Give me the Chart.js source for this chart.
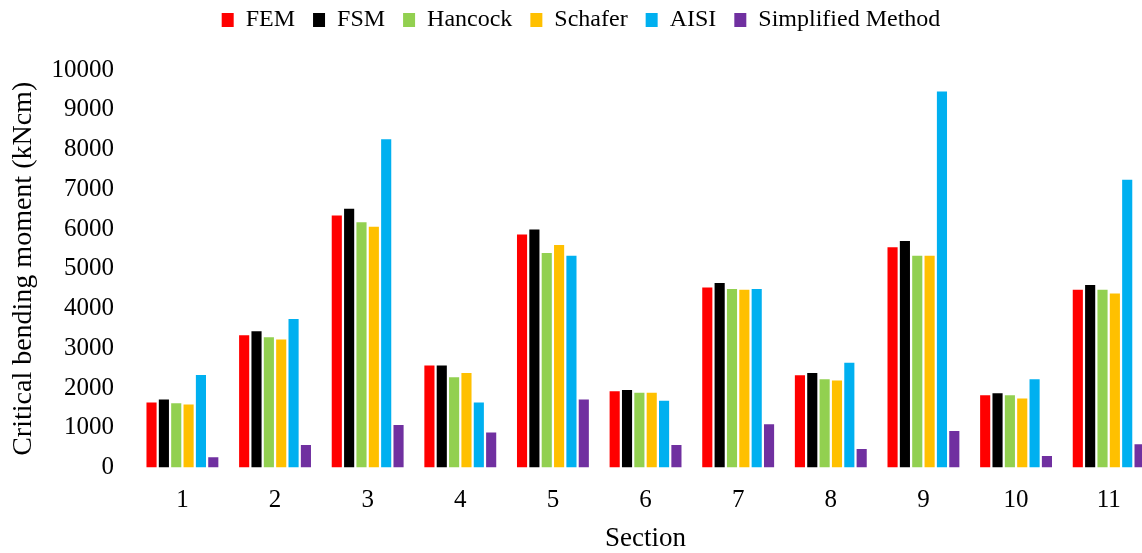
<!DOCTYPE html>
<html>
<head>
<meta charset="utf-8">
<script src="https://cdn.jsdelivr.net/npm/chart.js@4.4.1/dist/chart.umd.min.js"></script>
<style>
  html, body { margin: 0; padding: 0; background: #fff; overflow: hidden; }
  #wrap { position: absolute; left: 0; top: 0; width: 1160px; height: 553px; }
</style>
</head>
<body>
<div id="wrap"><canvas id="chart"></canvas></div>
<script>
// sections on the x axis
const sections = ['1', '2', '3', '4', '5', '6', '7', '8', '9', '10', '11'];

// critical bending moment (kNcm)
const fem        = [1640, 3330, 6340, 2570, 5860, 1920, 4530, 2320, 5540, 1820, 4470];
const fsm        = [1710, 3430, 6510, 2570, 5990, 1950, 4640, 2380, 5700, 1870, 4590];
const hancock    = [1620, 3280, 6170, 2270, 5400, 1880, 4490, 2220, 5330, 1820, 4470];
const schafer    = [1590, 3220, 6060, 2380, 5600, 1880, 4470, 2190, 5330, 1740, 4380];
const aisi       = [2330, 3740, 8260, 1640, 5330, 1680, 4490, 2640, 9460, 2220, 7240];
const simplified = [260, 570, 1070, 880, 1710, 570, 1090, 470, 920, 290, 590];

const yTicks = { min: 0, max: 10000, step: 1000 };

const FONT = "'Liberation Serif', 'Times New Roman', serif";
Chart.defaults.font.family = FONT;
Chart.defaults.color = '#000';

const series = [
  { label: 'FEM', data: fem, color: '#FF0000' },
  { label: 'FSM', data: fsm, color: '#000000' },
  { label: 'Hancock', data: hancock, color: '#92D050' },
  { label: 'Schafer', data: schafer, color: '#FFC000' },
  { label: 'AISI', data: aisi, color: '#00B0F0' },
  { label: 'Simplified Method', data: simplified, color: '#7030A0' },
];

// push the plot down below the legend, like the original
const legendSpacer = {
  id: 'legendSpacer',
  beforeInit(chart) {
    const fit = chart.legend.fit;
    chart.legend.fit = function () {
      fit.call(this);
      this.height = 80;
    };
  },
};

new Chart(document.getElementById('chart'), {
  type: 'bar',
  data: {
    labels: sections,
    datasets: series.map(s => ({
      label: s.label,
      data: s.data,
      backgroundColor: s.color,
      borderWidth: 0,
      categoryPercentage: 0.8,
      barPercentage: 0.82,
    })),
  },
  options: {
    responsive: true,
    maintainAspectRatio: false,
    animation: false,
    layout: { padding: { top: -10, left: 7, right: 5, bottom: 0 } },
    plugins: {
      legend: {
        position: 'top',
        labels: {
          font: { size: 24 },
          boxWidth: 12,
          boxHeight: 14,
          padding: 18,
        },
      },
      tooltip: { enabled: false },
    },
    scales: {
      x: {
        grid: { display: false, drawTicks: false },
        border: { display: false },
        ticks: { font: { size: 25 }, padding: 18 },
        title: { display: true, text: 'Section', font: { size: 27 }, padding: { top: -11, bottom: -2 } },
      },
      y: {
        min: yTicks.min,
        max: yTicks.max,
        grid: { display: false, drawTicks: false },
        border: { display: false },
        ticks: { stepSize: yTicks.step, font: { size: 25 }, padding: 22, callback: v => v },
        title: { display: true, text: 'Critical bending moment (kNcm)', font: { size: 28 }, padding: { top: 0, bottom: -11 } },
      },
    },
  },
  plugins: [legendSpacer],
});
</script>
</body>
</html>
